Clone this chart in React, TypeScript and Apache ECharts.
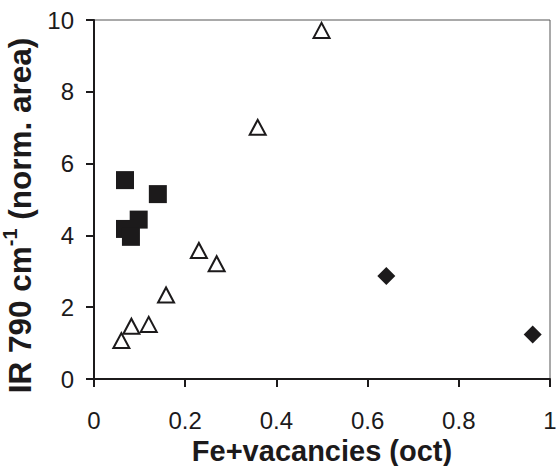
import React, { useEffect, useRef } from "react";
import * as echarts from "echarts";

const squareX = [0.068, 0.14, 0.098, 0.068, 0.081];
const squareY = [5.54, 5.15, 4.44, 4.18, 3.96];
const triX = [0.06, 0.082, 0.12, 0.158, 0.23, 0.269, 0.359, 0.499];
const triY = [1.07, 1.47, 1.52, 2.34, 3.58, 3.21, 7.01, 9.71];
const diaX = [0.641, 0.962];
const diaY = [2.87, 1.24];

const xTitle = "Fe+vacancies (oct)";
const yTitleParts = ["IR 790 cm", "-1", " (norm. area)"];

const FONT = "'Liberation Sans', Arial, Helvetica, sans-serif";
const INK = "#1c1a1b";

const zip = (xs: number[], ys: number[]) => xs.map((x, i) => [x, ys[i]]);

export default function App() {
  const ref = useRef<HTMLDivElement>(null);
  useEffect(() => {
    if (!ref.current) return;
    const chart = echarts.init(ref.current, null, { renderer: "svg" });
    chart.setOption({
      animation: false,
      backgroundColor: "#ffffff",
      grid: {
        left: 94,
        top: 20,
        right: 6,
        bottom: 87,
        containLabel: false,
        outerBoundsMode: "none",
        show: true,
        borderColor: "#555555",
        borderWidth: 1,
        backgroundColor: "transparent",
      },
      xAxis: {
        type: "value",
        min: 0,
        max: 1,
        interval: 0.2,
        name: xTitle,
        nameLocation: "middle",
        nameGap: 56,
        nameTextStyle: {
          fontFamily: FONT,
          fontSize: 29,
          fontWeight: "bold",
          color: INK,
        },
        axisLine: { show: true, onZero: false, lineStyle: { color: INK, width: 2 } },
        axisTick: { show: true, inside: false, length: 8, lineStyle: { color: INK, width: 2 } },
        axisLabel: { fontFamily: FONT, fontSize: 24, color: INK, margin: 29 },
        splitLine: { show: false },
      },
      yAxis: {
        type: "value",
        min: 0,
        max: 10,
        interval: 2,
        name:
          "{m|" + yTitleParts[0] + "}{s|" + yTitleParts[1] + "}{m|" + yTitleParts[2] + "}",
        nameLocation: "middle",
        nameGap: 43,
        nameRotate: 90,
        nameTextStyle: {
          fontFamily: FONT,
          fontSize: 31.5,
          fontWeight: "bold",
          color: INK,
          padding: [0, 32, 0, 0],
          rich: {
            m: {
              fontFamily: FONT,
              fontSize: 31.5,
              fontWeight: "bold",
              color: INK,
              lineHeight: 36,
              verticalAlign: "bottom",
            },
            s: {
              fontFamily: FONT,
              fontSize: 20,
              fontWeight: "bold",
              color: INK,
              lineHeight: 36,
              verticalAlign: "top",
            },
          },
        },
        axisLine: { show: true, onZero: false, lineStyle: { color: INK, width: 2 } },
        axisTick: { show: true, inside: false, length: 8, lineStyle: { color: INK, width: 2 } },
        axisLabel: { fontFamily: FONT, fontSize: 24, color: INK, margin: 20 },
        splitLine: { show: false },
      },
      series: [
        {
          type: "scatter",
          data: zip(squareX, squareY),
          symbol: "rect",
          symbolSize: 18,
          itemStyle: { color: INK, opacity: 1 },
        },
        {
          type: "scatter",
          data: zip(triX, triY),
          symbol: "triangle",
          symbolSize: [16, 15],
          itemStyle: { color: "#ffffff", borderColor: INK, borderWidth: 2, opacity: 1 },
        },
        {
          type: "scatter",
          data: zip(diaX, diaY),
          symbol: "diamond",
          symbolSize: 18,
          itemStyle: { color: INK, opacity: 1 },
        },
      ],
    });
    return () => chart.dispose();
  }, []);
  return (
    <div
      ref={ref}
      style={{ position: "fixed", left: 0, top: 0, width: 556, height: 466, background: "#fff" }}
    />
  );
}
